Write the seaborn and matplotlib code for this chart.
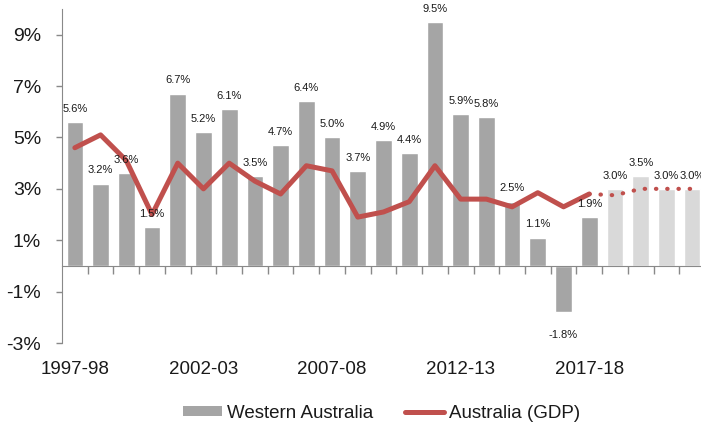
import numpy as np
import pandas as pd
import matplotlib
matplotlib.use("Agg")
import matplotlib.pyplot as plt
import seaborn as sns
from matplotlib.patches import Patch
from matplotlib.lines import Line2D
from matplotlib.ticker import FixedLocator

# Data
years = ["1997-98", "1998-99", "1999-00", "2000-01", "2001-02", "2002-03", "2003-04",
         "2004-05", "2005-06", "2006-07", "2007-08", "2008-09", "2009-10", "2010-11",
         "2011-12", "2012-13", "2013-14", "2014-15", "2015-16", "2016-17", "2017-18",
         "2018-19", "2019-20", "2020-21", "2021-22"]
wa_growth = [5.6, 3.2, 3.6, 1.5, 6.7, 5.2, 6.1, 3.5, 4.7, 6.4, 5.0, 3.7, 4.9, 4.4,
             9.5, 5.9, 5.8, 2.5, 1.1, -1.8, 1.9, 3.0, 3.5, 3.0, 3.0]
aus_gdp = [4.6, 5.1, 4.1, 2.0, 4.0, 3.0, 4.0, 3.3, 2.8, 3.9, 3.7, 1.9, 2.1, 2.5,
           3.9, 2.6, 2.6, 2.3, 2.85, 2.3, 2.8, 2.75, 3.0, 3.0, 3.0]
kind = ["Actual"] * 21 + ["Forecast"] * 4
last_actual = 20

df = pd.DataFrame({"year": years, "wa": wa_growth, "gdp": aus_gdp, "kind": kind})
df["pos"] = np.arange(len(df))

sns.set_style("white")
plt.rcParams["font.family"] = ["Liberation Sans", "DejaVu Sans"]

dark_grey = "#a5a5a5"
light_grey = "#d9d9d9"
red = "#c0504d"
axis_grey = "#898989"
text_col = "#1a1a1a"

fig = plt.figure(figsize=(7.01, 4.28), dpi=100)
ax = fig.add_axes([62 / 701, 85 / 428, 643 / 701, 334 / 428])

sns.barplot(data=df, x="year", y="wa", hue="kind",
            palette={"Actual": dark_grey, "Forecast": light_grey},
            dodge=False, width=0.65, legend=False, ax=ax, zorder=1)

solid = df.iloc[:last_actual + 1]
dotted = df.iloc[last_actual:]
sns.lineplot(data=solid, x="pos", y="gdp", color=red, lw=3.6, ax=ax,
             solid_capstyle="round", zorder=3)
sns.lineplot(data=dotted, x="pos", y="gdp", color=red, lw=3.0, ax=ax,
             ls=(0, (0.1, 2.6)), dash_capstyle="round", zorder=3)

# value labels
for i, v in enumerate(df["wa"]):
    if v >= 0:
        ax.annotate(f"{v:.1f}%", (i, v), xytext=(0, 6), textcoords="offset points",
                    ha="center", va="bottom", fontsize=8, color=text_col)
    else:
        ax.annotate(f"{v:.1f}%", (i, v), xytext=(0, -13), textcoords="offset points",
                    ha="center", va="top", fontsize=8, color=text_col)

ax.set_xlim(-0.5, len(df) - 0.5)
ax.set_ylim(-3, 10)
ax.set_xlabel("")
ax.set_ylabel("")

yt = [-3, -1, 1, 3, 5, 7, 9]
ax.set_yticks(yt, labels=[f"{v}%" for v in yt])
ax.tick_params(axis="y", left=True, length=4, width=1, color=axis_grey, pad=11,
               labelsize=14, labelcolor=text_col)

# zero line with category separators
ax.spines["bottom"].set_position(("data", 0))
ax.spines["bottom"].set_color(axis_grey)
ax.spines["left"].set_color(axis_grey)
ax.spines["top"].set_visible(False)
ax.spines["right"].set_visible(False)
ax.set_xticks([])
ax.xaxis.set_minor_locator(FixedLocator(df["pos"].values[1:] - 0.5))
ax.tick_params(axis="x", which="minor", bottom=True, length=6, width=1,
               color=axis_grey, direction="out")

sec = ax.secondary_xaxis("bottom")
sec.set_xticks(df["pos"].values[::5], labels=df["year"].values[::5])
sec.spines["bottom"].set_visible(False)
sec.tick_params(length=0, pad=13, labelsize=13.5, labelcolor=text_col)

handles = [Patch(facecolor=dark_grey, edgecolor="none"),
           Line2D([0], [0], color=red, lw=3.6)]
fig.legend(handles, ["Western Australia", "Australia (GDP)"], loc="center",
           bbox_to_anchor=(0.544, 0.035), ncol=2, frameon=False, fontsize=13.5,
           handlelength=2.1, handleheight=0.5, handletextpad=0.25,
           columnspacing=1.7, labelcolor=text_col)

fig.savefig("out.png", dpi=100)
